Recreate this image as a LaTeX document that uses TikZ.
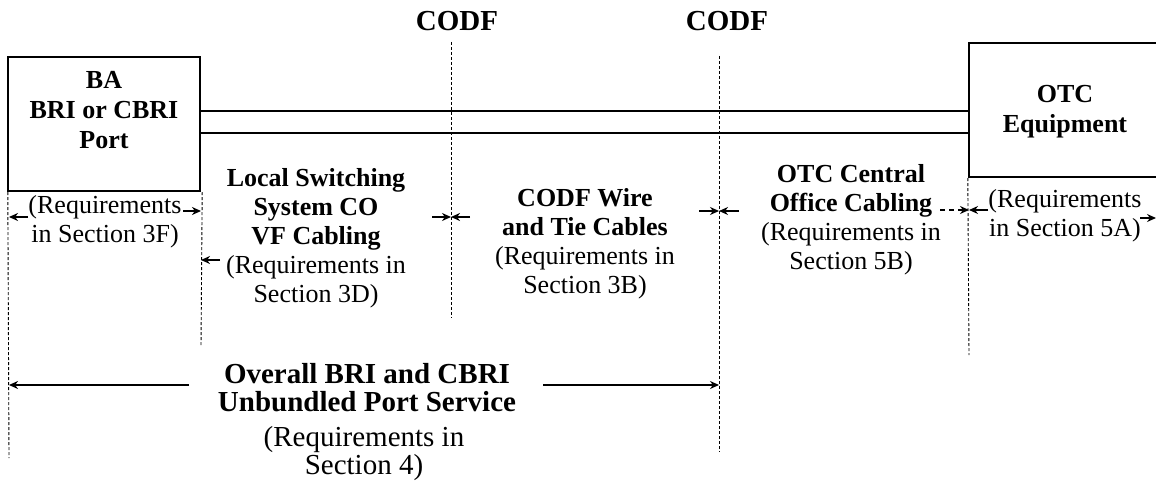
\documentclass[tikz,border=0pt]{standalone}
\usepackage{fontspec}
\setmainfont{Liberation Serif}
\usetikzlibrary{arrows.meta}

\tikzset{
  unitbox/.style={draw, line width=2.4pt, minimum width=192pt, minimum height=134pt, inner sep=0pt},
  wire/.style={line width=2.2pt},
  cutline/.style={line width=0.9pt, dash pattern=on 3pt off 2pt},
  pointer/.style={line width=1.5pt, -{Stealth[length=9pt,width=8pt]}},
  head/.style={font=\fontsize{26}{30}\selectfont\bfseries, align=center, inner sep=0pt},
  note/.style={font=\fontsize{26}{29}\selectfont, align=center, inner sep=0pt},
  bighead/.style={font=\fontsize{29}{28}\selectfont\bfseries, align=center, inner sep=0pt},
  bignote/.style={font=\fontsize{29}{28}\selectfont, align=center, inner sep=0pt}
}

\begin{document}
\begin{tikzpicture}[x=1pt,y=-1pt]
\useasboundingbox (0,0) rectangle (1156,481);

% equipment at both ends
\node[unitbox] (ba) at (104,124) {};
\node[head] (batext) at (104,110) {BA\\BRI or CBRI\\Port};
\node[unitbox] (otc) at (1065,110) {};
\node[head] (otctext) at (1065,112) {OTC\\Equipment};

% the cable pair
\draw[wire] (ba.east |- 0,111) -- (otc.west |- 0,111);
\draw[wire] (ba.east |- 0,133) -- (otc.west |- 0,133);

% frames
\node[bighead] (codfa) at (457,21) {CODF};
\node[bighead] (codfb) at (727,21) {CODF};
\coordinate (codfatop) at (451,42);
\coordinate (codfabot) at (451,318);
\coordinate (codfbtop) at (719,56);
\coordinate (codfbbot) at (719,452);
\coordinate (babot) at (9,458);
\coordinate (baedge) at (201,347);
\coordinate (otcedge) at (969,355);

\draw[cutline] (ba.south west) ++(1,0) -- (babot);
\draw[cutline] (ba.south east) ++(1,0) -- (baedge);
\draw[cutline] (codfatop) -- (codfabot);
\draw[cutline] (codfbtop) -- (codfbbot);
\draw[cutline] (otc.south west) -- (otcedge);

% section labels
\node[note] (req3f) at (105,222) {(Requirements\\in Section 3F)};
\node[note] (vfcab) at (316,238) {\textbf{Local Switching}\\\textbf{System CO}\\\textbf{VF Cabling}\\(Requirements in\\Section 3D)};
\node[note] (tiecab) at (585,244) {\textbf{CODF Wire}\\\textbf{and Tie Cables}\\(Requirements in\\Section 3B)};
\node[note] (cocab) at (851,220) {\textbf{OTC Central}\\\textbf{Office Cabling}\\(Requirements in\\Section 5B)};
\node[note] (req5a) at (1065,216) {(Requirements\\in Section 5A)};
\node[bighead] (overall) at (367,388) {Overall BRI and CBRI\\Unbundled Port Service};
\node[bignote] (req4) at (364,454) {(Requirements in\\Section 4)};

% extent arrows
\coordinate (a1) at (28,217);   \coordinate (a1e) at (9,217);
\coordinate (a2) at (183,211);  \coordinate (a2e) at (201,211);
\coordinate (a3) at (220,260);  \coordinate (a3e) at (201,260);
\coordinate (a4) at (432,217);  \coordinate (a4e) at (451,217);
\coordinate (a5) at (470,217);  \coordinate (a5e) at (451,217);
\coordinate (a6) at (699,211);  \coordinate (a6e) at (719,211);
\coordinate (a7) at (739,211);  \coordinate (a7e) at (719,211);
\coordinate (a8) at (940,210);  \coordinate (a8e) at (969,210);
\coordinate (a9) at (988,210);  \coordinate (a9e) at (969,210);
\coordinate (a10) at (1140,218); \coordinate (a10e) at (1156,218);
\coordinate (a11) at (189,385); \coordinate (a11e) at (9,385);
\coordinate (a12) at (543,385); \coordinate (a12e) at (719,385);

\draw[pointer] (a1) -- (a1e);
\draw[pointer] (a2) -- (a2e);
\draw[pointer] (a3) -- (a3e);
\draw[pointer] (a4) -- (a4e);
\draw[pointer] (a5) -- (a5e);
\draw[pointer] (a6) -- (a6e);
\draw[pointer] (a7) -- (a7e);
\draw[pointer, dash pattern=on 5pt off 4pt] (a8) -- (a8e);
\draw[pointer] (a9) -- (a9e);
\draw[pointer] (a10) -- (a10e);
\draw[pointer] (a11) -- (a11e);
\draw[pointer] (a12) -- (a12e);
\end{tikzpicture}
\end{document}
